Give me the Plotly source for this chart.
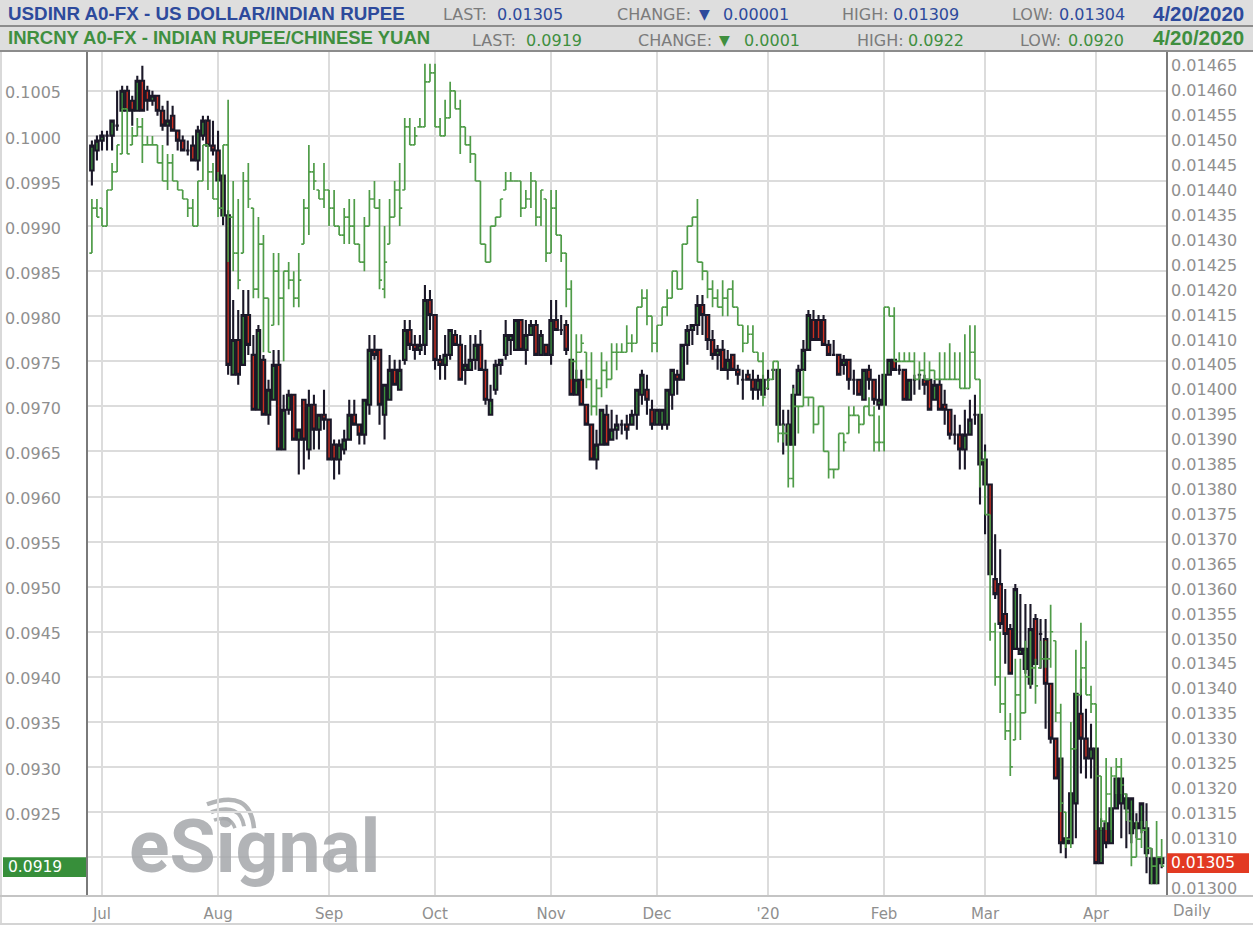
import pandas as pd
import plotly.graph_objects as go

W, H = 1253, 927

# one session per weekday, first bar 27 Jun 2019, last bar 20 Apr 2020
dates = pd.bdate_range("2019-06-27", "2020-04-20").strftime("%Y-%m-%d").tolist()

# USDINR candles, in units of 0.00001
usd_open = [1444,1448,1450,1451,1451,1453,1456,1460,1458,1456,1462,1460,1458,1459,1456,1453,1455,1452,1450,1448,
    1449,1446,1451,1454,1449,1448,1443,1435,1403,1410,1405,1415,1407,1396,1406,1395,1398,1405,1388,1396,
    1399,1390,1398,1388,1397,1392,1395,1394,1389,1386,1388,1390,1395,1393,1391,1397,1408,1408,1395,1398,
    1404,1400,1406,1412,1409,1408,1409,1418,1415,1406,1405,1407,1411,1409,1404,1404,1406,1409,1404,1395,
    1400,1405,1407,1410,1408,1414,1408,1411,1413,1407,1409,1407,1414,1412,1413,1406,1399,1402,1397,1393,
    1386,1389,1395,1390,1392,1393,1393,1393,1395,1399,1400,1396,1393,1393,1393,1399,1403,1402,1409,1412,
    1413,1417,1415,1410,1407,1408,1404,1407,1404,1402,1403,1402,1400,1399,1402,1404,1404,1393,1393,1389,
    1399,1404,1408,1414,1414,1414,1409,1407,1407,1405,1406,1402,1402,1398,1404,1402,1397,1397,1403,1406,
    1404,1404,1398,1402,1403,1402,1402,1398,1401,1397,1396,1391,1391,1388,1391,1395,1395,1386,1381,1362,
    1361,1355,1352,1348,1347,1344,1341,1354,1351,1350,1341,1330,1326,1309,1309,1317,1335,1330,1326,1328,
    1305,1313,1309,1316,1317,1316,1311,1313,1312,1307,1301,1301,1306]
usd_high = [1450,1451,1452,1452,1454,1460,1461,1461,1459,1463,1465,1461,1460,1459,1457,1458,1457,1452,1451,1450,
    1451,1453,1455,1455,1454,1452,1443,1436,1418,1416,1420,1420,1411,1413,1407,1402,1408,1408,1399,1400,
    1399,1392,1398,1400,1399,1395,1400,1394,1390,1390,1392,1398,1398,1393,1398,1411,1411,1408,1401,1407,
    1406,1406,1414,1414,1411,1411,1421,1420,1415,1407,1411,1412,1412,1411,1409,1411,1411,1412,1406,1401,
    1406,1406,1414,1411,1414,1414,1414,1414,1414,1412,1409,1418,1418,1415,1414,1406,1404,1404,1397,1393,
    1392,1396,1397,1396,1395,1394,1395,1396,1400,1404,1403,1398,1396,1396,1400,1404,1404,1409,1413,1413,
    1419,1419,1415,1412,1409,1410,1408,1407,1405,1404,1404,1404,1403,1403,1404,1404,1404,1396,1396,1401,
    1405,1410,1416,1416,1415,1415,1410,1410,1407,1407,1406,1404,1402,1404,1405,1402,1403,1403,1406,1406,
    1405,1404,1402,1403,1403,1403,1402,1402,1402,1400,1396,1395,1393,1396,1398,1399,1395,1389,1381,1371,
    1368,1360,1353,1361,1359,1357,1357,1355,1354,1354,1341,1330,1326,1310,1319,1339,1342,1336,1333,1328,
    1314,1313,1316,1322,1322,1319,1318,1315,1317,1317,1308,1306,1306]
usd_low = [1441,1446,1448,1448,1448,1452,1456,1456,1453,1456,1456,1456,1457,1455,1452,1449,1452,1448,1448,1447,
    1446,1444,1450,1449,1447,1442,1433,1403,1403,1401,1405,1407,1396,1396,1395,1393,1398,1388,1388,1395,
    1390,1383,1384,1386,1388,1388,1392,1386,1382,1383,1387,1390,1393,1389,1389,1395,1406,1393,1390,1398,
    1401,1400,1405,1408,1406,1407,1407,1412,1404,1402,1402,1406,1409,1402,1401,1404,1404,1404,1397,1395,
    1399,1403,1406,1407,1408,1408,1405,1411,1407,1407,1407,1405,1412,1411,1407,1399,1399,1397,1393,1386,
    1384,1389,1389,1390,1390,1391,1390,1393,1392,1397,1395,1392,1393,1392,1392,1396,1399,1402,1405,1409,
    1411,1411,1408,1406,1404,1404,1402,1404,1401,1398,1402,1398,1398,1399,1400,1402,1393,1387,1389,1389,
    1399,1404,1408,1410,1410,1409,1407,1407,1403,1403,1400,1399,1399,1398,1400,1397,1396,1397,1403,1404,
    1403,1398,1398,1399,1400,1399,1396,1398,1396,1393,1390,1389,1384,1384,1391,1393,1377,1371,1363,1358,
    1352,1345,1343,1348,1347,1343,1340,1345,1344,1332,1329,1322,1307,1306,1309,1310,1323,1322,1322,1305,
    1305,1308,1309,1316,1310,1308,1309,1310,1311,1303,1301,1301,1304]
usd_close = [1449,1450,1451,1451,1454,1453,1460,1456,1456,1462,1456,1458,1459,1456,1453,1454,1452,1450,1448,1448,
    1446,1452,1454,1449,1448,1442,1435,1405,1410,1403,1415,1409,1396,1412,1395,1400,1405,1388,1396,1399,
    1390,1392,1390,1397,1392,1395,1394,1386,1386,1389,1390,1395,1393,1391,1398,1408,1407,1397,1401,1404,
    1401,1404,1412,1409,1408,1409,1418,1415,1406,1405,1407,1412,1409,1402,1405,1406,1409,1404,1398,1398,
    1405,1406,1411,1411,1414,1408,1411,1413,1407,1411,1407,1414,1412,1412,1408,1399,1402,1397,1393,1386,
    1389,1396,1389,1392,1393,1393,1392,1395,1400,1403,1398,1393,1396,1396,1400,1404,1402,1409,1412,1413,
    1417,1415,1410,1407,1408,1404,1406,1404,1403,1402,1402,1400,1402,1402,1402,1404,1393,1393,1389,1399,
    1404,1408,1415,1410,1410,1409,1407,1407,1403,1406,1402,1402,1399,1404,1402,1398,1398,1403,1406,1404,
    1404,1398,1402,1402,1403,1401,1396,1401,1396,1396,1391,1391,1388,1391,1394,1395,1385,1381,1363,1359,
    1353,1351,1343,1360,1348,1348,1352,1345,1351,1341,1330,1322,1309,1310,1319,1339,1330,1326,1328,1305,
    1312,1309,1316,1322,1322,1318,1318,1312,1317,1312,1306,1306,1305]

# INRCNY bars, in units of 0.0001
cny_open = [987,992,992,990,994,996,998,1003,999,1000,1001,999,999,999,997,995,997,995,994,993,
    992,990,995,999,996,993,992,999,991,987,987,995,992,983,988,982,979,985,982,985,
    984,982,988,992,996,994,993,994,992,990,989,991,990,988,986,990,993,992,983,988,
    991,994,994,1001,999,1001,1001,1006,1007,1001,1000,1002,1005,1003,1001,999,998,995,988,986,
    990,991,994,995,995,995,992,993,995,991,993,987,992,989,987,983,975,976,976,973,
    970,972,974,973,976,976,976,977,977,981,982,980,977,979,981,982,985,983,988,990,
    991,986,985,983,982,981,982,983,981,979,977,978,976,975,972,973,975,967,967,962,
    970,970,971,971,968,970,965,963,963,967,967,969,969,968,970,969,966,966,981,980,
    975,975,975,975,973,974,973,974,973,973,973,973,973,972,972,976,973,964,958,945,
    940,937,934,933,938,936,940,941,941,942,942,944,936,925,922,932,938,941,938,937,
    929,924,927,929,930,927,924,920,922,923,921,919,920]
cny_high = [993,993,992,994,997,999,1003,1003,1001,1002,1002,1000,1000,999,999,998,998,995,994,993,
    993,995,999,999,997,996,999,1004,995,993,996,997,992,991,989,982,987,987,985,986,
    985,987,993,999,997,994,997,994,994,990,992,993,993,988,991,994,995,993,990,993,
    995,997,1002,1002,1001,1002,1008,1008,1008,1002,1004,1006,1005,1004,1001,1000,998,995,988,990,
    991,993,996,996,995,995,994,996,995,994,993,994,994,989,987,984,978,978,976,976,
    973,976,975,977,977,977,979,978,981,983,983,980,979,981,983,985,985,988,990,991,
    993,986,985,984,983,984,983,984,981,979,979,979,976,976,973,975,975,968,968,972,
    970,974,971,971,970,970,965,963,967,967,970,970,969,970,971,970,969,981,981,981,
    976,976,976,976,975,976,975,974,976,976,977,976,976,978,979,979,973,965,958,946,
    945,940,936,942,942,944,945,942,944,944,948,944,937,925,935,943,946,944,939,937,
    929,931,930,931,931,927,924,924,924,924,921,924,922]
cny_low = [987,991,990,990,994,996,998,998,999,1000,997,999,999,997,995,994,995,994,993,991,
    990,990,995,994,993,991,991,986,985,983,987,992,982,982,976,976,979,979,975,983,
    981,981,988,989,994,993,992,990,990,989,988,988,988,986,985,990,992,983,982,988,
    991,990,994,999,999,1001,1001,1006,1001,1000,1000,1002,1003,998,999,997,995,988,986,986,
    990,991,994,995,995,991,992,992,990,990,986,987,989,986,981,973,973,976,972,969,
    969,971,972,973,974,976,976,976,977,981,979,976,976,979,980,982,983,983,988,990,
    986,984,982,981,981,980,980,981,979,976,977,976,975,970,972,973,966,966,961,961,
    967,970,970,967,968,965,962,962,963,965,967,969,967,968,969,965,965,965,980,975,
    975,975,975,973,973,973,973,973,973,973,973,973,972,972,972,973,961,958,944,939,
    936,933,929,933,933,936,939,937,941,941,941,935,925,921,921,932,938,938,936,923,
    923,923,923,927,927,924,919,920,921,920,917,917,919]
cny_close = [992,991,990,994,996,999,1003,998,1000,1001,999,999,999,997,995,997,995,994,993,992,
    990,995,999,996,993,992,999,991,987,984,995,993,983,988,982,976,985,982,985,984,
    982,984,992,996,995,993,994,992,990,989,991,990,988,986,990,993,992,984,986,991,
    994,992,1001,999,1000,1001,1006,1007,1001,1000,1002,1005,1003,1001,999,998,995,988,986,990,
    991,993,995,995,995,992,993,995,991,994,987,992,989,987,983,975,976,977,973,970,
    972,974,973,976,976,976,977,977,981,982,980,977,979,981,982,985,983,988,990,991,
    986,985,983,982,981,982,983,981,979,977,978,976,975,971,973,975,967,967,962,970,
    970,971,971,968,970,965,963,963,967,966,969,969,968,970,969,966,966,981,980,975,
    975,975,975,973,974,973,974,973,973,973,973,973,972,972,976,973,964,958,945,940,
    937,934,930,938,936,940,941,939,942,942,945,936,926,922,932,938,941,938,937,929,
    924,927,929,930,928,925,920,922,923,921,919,920,919]

for series in (usd_open, usd_high, usd_low, usd_close, cny_open, cny_high, cny_low, cny_close):
    assert len(series) == len(dates), len(series)

month_ticks = ["2019-07-01", "2019-08-01", "2019-09-02", "2019-10-01", "2019-11-01",
               "2019-12-02", "2020-01-01", "2020-02-03", "2020-03-02", "2020-04-01"]
month_labels = ["Jul", "Aug", "Sep", "Oct", "Nov", "Dec", "'20", "Feb", "Mar", "Apr"]

cny_ticks = [920, 925, 930, 935, 940, 945, 950, 955, 960, 965, 970, 975, 980, 985, 990, 995, 1000, 1005]
usd_ticks = [1300, 1310, 1315, 1320, 1325, 1330, 1335, 1340, 1345, 1350, 1355, 1360, 1365, 1370, 1375, 1380,
             1385, 1390, 1395, 1400, 1405, 1410, 1415, 1420, 1425, 1430, 1435, 1440, 1445, 1450, 1455, 1460, 1465]

BLUE = "#2d4a9c"
GREEN = "#3f8f3f"
GREY = "#7b7b7b"
AXIS_GREY = "#8f8f8f"
FONT = "DejaVu Sans"


def px(x):
    return x / W


def py(y):
    return 1 - y / H


def label(x, y, text, color=GREY, size=16, anchor="left", bold=False, family=FONT):
    return dict(
        x=px(x), y=py(y), xref="paper", yref="paper", text=f"<b>{text}</b>" if bold else text,
        showarrow=False, xanchor=anchor, yanchor="middle",
        font=dict(family=family, size=size, color=color),
    )


def band(y0, y1, color):
    return dict(type="rect", xref="paper", yref="paper", x0=0, x1=1, y0=py(y1), y1=py(y0),
                fillcolor=color, line_width=0, layer="above")


def box(x0, x1, y0, y1, color):
    return dict(type="rect", xref="paper", yref="paper", x0=px(x0), x1=px(x1), y0=py(y1), y1=py(y0),
                fillcolor=color, line_width=0, layer="above")


def arc(path_pts, width):
    (x0, y0), (cx, cy), (x1, y1) = path_pts
    path = f"M {px(x0)} {py(y0)} Q {px(cx)} {py(cy)} {px(x1)} {py(y1)}"
    return dict(type="path", xref="paper", yref="paper", path=path, layer="below",
                line=dict(color="#b3b5b7", width=width))


fig = go.Figure()

fig.add_trace(go.Candlestick(
    x=dates,
    open=[v / 100000 for v in usd_open],
    high=[v / 100000 for v in usd_high],
    low=[v / 100000 for v in usd_low],
    close=[v / 100000 for v in usd_close],
    name="USDINR",
    yaxis="y",
    whiskerwidth=0,
    increasing=dict(line=dict(color="#1b1828", width=2.1), fillcolor="#3c8f3c"),
    decreasing=dict(line=dict(color="#1b1828", width=2.1), fillcolor="#cc2f20"),
))

# INRCNY sits on the overlaying axis so its bars draw over the candles
fig.add_trace(go.Ohlc(
    x=dates,
    open=[v / 10000 for v in cny_open],
    high=[v / 10000 for v in cny_high],
    low=[v / 10000 for v in cny_low],
    close=[v / 10000 for v in cny_close],
    name="INRCNY",
    yaxis="y2",
    tickwidth=0.5,
    increasing=dict(line=dict(color="#4f9c48", width=1.7)),
    decreasing=dict(line=dict(color="#4f9c48", width=1.7)),
))

annotations = [
    label(6, 14, "USDINR A0-FX - US DOLLAR/INDIAN RUPEE", BLUE, 18.8, bold=True, family="Liberation Sans"),
    label(441, 15, "LAST:"), label(495, 15, "0.01305", BLUE),
    label(615, 15, "CHANGE:"), label(697, 14, "▼", BLUE, 14), label(721, 15, "0.00001", BLUE),
    label(840, 15, "HIGH:"), label(891, 15, "0.01309", BLUE),
    label(1010, 15, "LOW:"), label(1057, 15, "0.01304", BLUE),
    label(1246, 14, "4/20/2020", BLUE, 20.5, "right", True, "Liberation Sans"),
    label(6, 38, "INRCNY A0-FX - INDIAN RUPEE/CHINESE YUAN", GREEN, 18.5, bold=True, family="Liberation Sans"),
    label(470, 41, "LAST:"), label(524, 41, "0.0919", GREEN),
    label(636, 41, "CHANGE:"), label(717, 40, "▼", GREEN, 14), label(742, 41, "0.0001", GREEN),
    label(855, 41, "HIGH:"), label(906, 41, "0.0922", GREEN),
    label(1018, 41, "LOW:"), label(1066, 41, "0.0920", GREEN),
    label(1246, 38, "4/20/2020", GREEN, 20.5, "right", True, "Liberation Sans"),
    label(1192, 913, "Daily", AXIS_GREY, 15, "center"),
    label(127, 848, "eSignal", "rgba(165,167,170,0.85)", 75, bold=True, family="Roboto"),
    label(6, 869, "0.0919", "white", 15.5),
    label(1169, 865, "0.01305", "white", 15.5),
]

shapes = [
    band(0, 26, "#dedede"), band(25, 27, "#8c8c8c"),
    band(27, 50, "#dedede"), band(50, 52, "#8c8c8c"),
    band(925, 927, "#d4d4d4"),
    dict(type="rect", xref="paper", yref="paper", x0=0, x1=px(2), y0=0, y1=py(52),
         fillcolor="#d9d9d9", line_width=0, layer="below"),
    dict(type="rect", xref="paper", yref="paper", x0=0, x1=1, y0=py(899), y1=py(897),
         fillcolor="#c4c4c4", line_width=0, layer="above"),
    box(3, 86, 859, 879, "#378f3a"),
    box(1167, 1249, 855, 875, "#e23a22"),
    arc([(207, 806), (250, 790), (254, 830)], 4.5),
    arc([(211, 814), (240, 804), (244, 828)], 4),
    arc([(214, 822), (230, 816), (235, 830)], 3.5),
]

fig.update_layout(
    width=W, height=H,
    autosize=False,
    margin=dict(l=0, r=0, t=0, b=0),
    paper_bgcolor="white",
    plot_bgcolor="white",
    showlegend=False,
    boxgap=0.02,
    xaxis=dict(
        type="category",
        domain=[px(88), px(1166)],
        range=[-0.77, 212.86],
        rangeslider=dict(visible=False),
        tickmode="array",
        tickvals=month_ticks,
        ticktext=month_labels,
        tickfont=dict(family=FONT, size=15, color=AXIS_GREY),
        ticks="outside", ticklen=4, tickcolor="rgba(0,0,0,0)",
        showgrid=True, gridcolor="#dcdcdc", gridwidth=1.6,
        zeroline=False,
    ),
    yaxis=dict(
        domain=[py(898), py(52)],
        range=[0.012984, 0.014678],
        side="right",
        tickmode="array",
        tickvals=[v / 100000 for v in usd_ticks],
        ticktext=[f"{v / 100000:.5f}" for v in usd_ticks],
        tickfont=dict(family=FONT, size=16, color=AXIS_GREY),
        ticks="outside", ticklen=0,
        showgrid=False, zeroline=False,
        showline=True, linecolor="#7a7a7a", linewidth=1.6,
    ),
    yaxis2=dict(
        overlaying="y",
        side="left",
        anchor="x",
        range=[0.091568, 0.100932],
        tickmode="array",
        tickvals=[v / 10000 for v in cny_ticks],
        # the 0.0920 label sits behind the green last-price box
        ticktext=["" if v == 920 else f"{v / 10000:.4f}" for v in cny_ticks],
        tickfont=dict(family=FONT, size=16, color=AXIS_GREY),
        ticks="outside", ticklen=22, tickcolor="rgba(0,0,0,0)",
        ticklabelshift=2,
        showgrid=True, gridcolor="#dcdcdc", gridwidth=1.6,
        zeroline=False,
        showline=True, linecolor="#7a7a7a", linewidth=1.6,
    ),
    annotations=annotations,
    shapes=shapes,
)

fig.write_html("out.html", post_script="document.body.style.margin='0'", config={"displayModeBar": False})
